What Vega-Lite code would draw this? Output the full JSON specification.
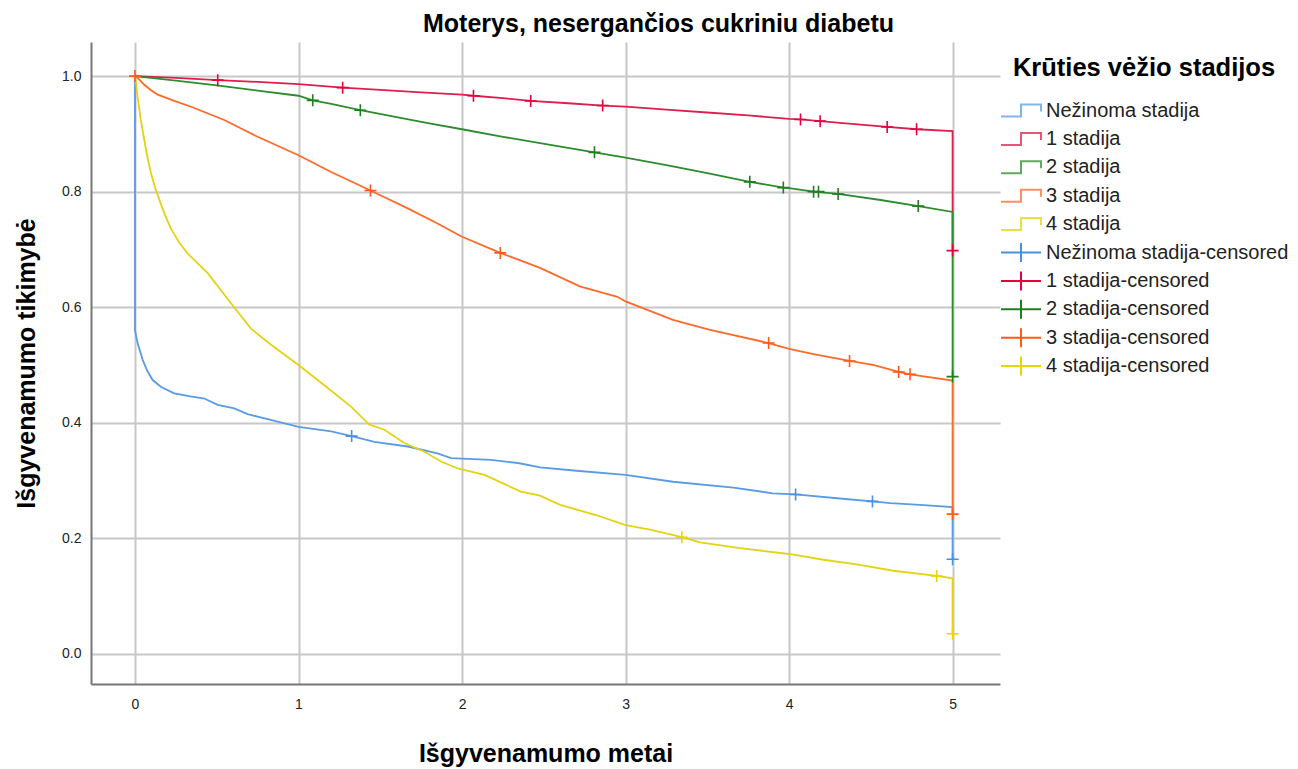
{
  "$schema": "https://vega.github.io/schema/vega-lite/v6.json",
  "width": 909,
  "height": 642,
  "autosize": {"type": "none"},
  "padding": {"left": 91, "top": 42, "right": 298, "bottom": 85},
  "background": "white",
  "config": {
    "view": {"stroke": null},
    "font": "Liberation Sans"
  },
  "title": {
    "text": "Moterys, nesergančios cukriniu diabetu",
    "font": "Liberation Sans",
    "fontSize": 25,
    "fontWeight": "bold",
    "color": "#000000",
    "anchor": "middle",
    "frame": "group",
    "dx": 113,
    "offset": 5
  },
  "datasets": {
    "curves": [
      {"g": "Nežinoma stadija", "t": 0, "p": 1.0},
      {"g": "Nežinoma stadija", "t": 0, "p": 0.56},
      {"g": "Nežinoma stadija", "t": 0.016, "p": 0.538},
      {"g": "Nežinoma stadija", "t": 0.047, "p": 0.509},
      {"g": "Nežinoma stadija", "t": 0.075, "p": 0.49},
      {"g": "Nežinoma stadija", "t": 0.108, "p": 0.474},
      {"g": "Nežinoma stadija", "t": 0.16, "p": 0.462},
      {"g": "Nežinoma stadija", "t": 0.24, "p": 0.451},
      {"g": "Nežinoma stadija", "t": 0.33, "p": 0.446},
      {"g": "Nežinoma stadija", "t": 0.424, "p": 0.442},
      {"g": "Nežinoma stadija", "t": 0.506, "p": 0.431},
      {"g": "Nežinoma stadija", "t": 0.607, "p": 0.425},
      {"g": "Nežinoma stadija", "t": 0.689, "p": 0.415},
      {"g": "Nežinoma stadija", "t": 0.83, "p": 0.405},
      {"g": "Nežinoma stadija", "t": 1.0, "p": 0.393},
      {"g": "Nežinoma stadija", "t": 1.2, "p": 0.385},
      {"g": "Nežinoma stadija", "t": 1.325, "p": 0.377},
      {"g": "Nežinoma stadija", "t": 1.464, "p": 0.367},
      {"g": "Nežinoma stadija", "t": 1.668, "p": 0.359},
      {"g": "Nežinoma stadija", "t": 1.85, "p": 0.347},
      {"g": "Nežinoma stadija", "t": 1.933, "p": 0.339},
      {"g": "Nežinoma stadija", "t": 2.177, "p": 0.336},
      {"g": "Nežinoma stadija", "t": 2.35, "p": 0.33},
      {"g": "Nežinoma stadija", "t": 2.477, "p": 0.323},
      {"g": "Nežinoma stadija", "t": 2.7, "p": 0.317},
      {"g": "Nežinoma stadija", "t": 3.0, "p": 0.31},
      {"g": "Nežinoma stadija", "t": 3.29, "p": 0.298},
      {"g": "Nežinoma stadija", "t": 3.66, "p": 0.288},
      {"g": "Nežinoma stadija", "t": 3.9, "p": 0.278},
      {"g": "Nežinoma stadija", "t": 4.04, "p": 0.276},
      {"g": "Nežinoma stadija", "t": 4.31, "p": 0.269},
      {"g": "Nežinoma stadija", "t": 4.51, "p": 0.264},
      {"g": "Nežinoma stadija", "t": 4.62, "p": 0.261},
      {"g": "Nežinoma stadija", "t": 4.8, "p": 0.258},
      {"g": "Nežinoma stadija", "t": 5.0, "p": 0.254},
      {"g": "Nežinoma stadija", "t": 5.0, "p": 0.164},

      {"g": "1 stadija", "t": 0, "p": 1.0},
      {"g": "1 stadija", "t": 0.25, "p": 0.997},
      {"g": "1 stadija", "t": 0.506, "p": 0.993},
      {"g": "1 stadija", "t": 0.75, "p": 0.99},
      {"g": "1 stadija", "t": 1.0, "p": 0.986},
      {"g": "1 stadija", "t": 1.27, "p": 0.98},
      {"g": "1 stadija", "t": 1.5, "p": 0.976},
      {"g": "1 stadija", "t": 1.75, "p": 0.972},
      {"g": "1 stadija", "t": 2.0, "p": 0.968},
      {"g": "1 stadija", "t": 2.07, "p": 0.966},
      {"g": "1 stadija", "t": 2.25, "p": 0.962},
      {"g": "1 stadija", "t": 2.42, "p": 0.957},
      {"g": "1 stadija", "t": 2.65, "p": 0.953},
      {"g": "1 stadija", "t": 2.86, "p": 0.949},
      {"g": "1 stadija", "t": 3.0, "p": 0.947},
      {"g": "1 stadija", "t": 3.25, "p": 0.942},
      {"g": "1 stadija", "t": 3.5, "p": 0.937},
      {"g": "1 stadija", "t": 3.75, "p": 0.932},
      {"g": "1 stadija", "t": 4.0, "p": 0.926},
      {"g": "1 stadija", "t": 4.07, "p": 0.925},
      {"g": "1 stadija", "t": 4.19, "p": 0.922},
      {"g": "1 stadija", "t": 4.4, "p": 0.917},
      {"g": "1 stadija", "t": 4.6, "p": 0.912},
      {"g": "1 stadija", "t": 4.78, "p": 0.908},
      {"g": "1 stadija", "t": 5.0, "p": 0.905},
      {"g": "1 stadija", "t": 5.0, "p": 0.698},

      {"g": "2 stadija", "t": 0, "p": 1.0},
      {"g": "2 stadija", "t": 0.25, "p": 0.992},
      {"g": "2 stadija", "t": 0.5, "p": 0.984},
      {"g": "2 stadija", "t": 0.75, "p": 0.975},
      {"g": "2 stadija", "t": 1.0, "p": 0.966},
      {"g": "2 stadija", "t": 1.087, "p": 0.958},
      {"g": "2 stadija", "t": 1.2, "p": 0.952},
      {"g": "2 stadija", "t": 1.378, "p": 0.941},
      {"g": "2 stadija", "t": 1.6, "p": 0.929},
      {"g": "2 stadija", "t": 1.8, "p": 0.918},
      {"g": "2 stadija", "t": 2.0, "p": 0.908},
      {"g": "2 stadija", "t": 2.25, "p": 0.895},
      {"g": "2 stadija", "t": 2.54, "p": 0.881},
      {"g": "2 stadija", "t": 2.81, "p": 0.868},
      {"g": "2 stadija", "t": 3.0, "p": 0.859},
      {"g": "2 stadija", "t": 3.25, "p": 0.846},
      {"g": "2 stadija", "t": 3.5, "p": 0.832},
      {"g": "2 stadija", "t": 3.76, "p": 0.817},
      {"g": "2 stadija", "t": 3.965, "p": 0.807},
      {"g": "2 stadija", "t": 4.0, "p": 0.806},
      {"g": "2 stadija", "t": 4.15, "p": 0.8},
      {"g": "2 stadija", "t": 4.3, "p": 0.796},
      {"g": "2 stadija", "t": 4.55, "p": 0.786},
      {"g": "2 stadija", "t": 4.79, "p": 0.775},
      {"g": "2 stadija", "t": 5.0, "p": 0.765},
      {"g": "2 stadija", "t": 5.0, "p": 0.48},

      {"g": "3 stadija", "t": 0, "p": 1.0},
      {"g": "3 stadija", "t": 0.03, "p": 0.993},
      {"g": "3 stadija", "t": 0.057, "p": 0.985},
      {"g": "3 stadija", "t": 0.1, "p": 0.975},
      {"g": "3 stadija", "t": 0.139, "p": 0.968},
      {"g": "3 stadija", "t": 0.24, "p": 0.957},
      {"g": "3 stadija", "t": 0.343, "p": 0.947},
      {"g": "3 stadija", "t": 0.546, "p": 0.924},
      {"g": "3 stadija", "t": 0.75, "p": 0.895},
      {"g": "3 stadija", "t": 1.0, "p": 0.863},
      {"g": "3 stadija", "t": 1.2, "p": 0.834},
      {"g": "3 stadija", "t": 1.44, "p": 0.802},
      {"g": "3 stadija", "t": 1.668, "p": 0.771},
      {"g": "3 stadija", "t": 1.85, "p": 0.745},
      {"g": "3 stadija", "t": 2.0, "p": 0.722},
      {"g": "3 stadija", "t": 2.234, "p": 0.694},
      {"g": "3 stadija", "t": 2.477, "p": 0.668},
      {"g": "3 stadija", "t": 2.72, "p": 0.636},
      {"g": "3 stadija", "t": 2.95, "p": 0.618},
      {"g": "3 stadija", "t": 3.0, "p": 0.61},
      {"g": "3 stadija", "t": 3.29, "p": 0.578},
      {"g": "3 stadija", "t": 3.517, "p": 0.561},
      {"g": "3 stadija", "t": 3.875, "p": 0.538},
      {"g": "3 stadija", "t": 4.0, "p": 0.528},
      {"g": "3 stadija", "t": 4.15, "p": 0.519},
      {"g": "3 stadija", "t": 4.37, "p": 0.507},
      {"g": "3 stadija", "t": 4.52, "p": 0.5},
      {"g": "3 stadija", "t": 4.67, "p": 0.488},
      {"g": "3 stadija", "t": 4.74, "p": 0.484},
      {"g": "3 stadija", "t": 5.0, "p": 0.473},
      {"g": "3 stadija", "t": 5.0, "p": 0.242},

      {"g": "4 stadija", "t": 0, "p": 1.0},
      {"g": "4 stadija", "t": 0.008, "p": 0.985},
      {"g": "4 stadija", "t": 0.016, "p": 0.964},
      {"g": "4 stadija", "t": 0.035, "p": 0.925},
      {"g": "4 stadija", "t": 0.057, "p": 0.889},
      {"g": "4 stadija", "t": 0.078, "p": 0.857},
      {"g": "4 stadija", "t": 0.098, "p": 0.832},
      {"g": "4 stadija", "t": 0.125, "p": 0.805},
      {"g": "4 stadija", "t": 0.159, "p": 0.778},
      {"g": "4 stadija", "t": 0.19, "p": 0.755},
      {"g": "4 stadija", "t": 0.22, "p": 0.736},
      {"g": "4 stadija", "t": 0.27, "p": 0.712},
      {"g": "4 stadija", "t": 0.322, "p": 0.693},
      {"g": "4 stadija", "t": 0.445, "p": 0.659},
      {"g": "4 stadija", "t": 0.587, "p": 0.607},
      {"g": "4 stadija", "t": 0.709, "p": 0.563},
      {"g": "4 stadija", "t": 0.832, "p": 0.535},
      {"g": "4 stadija", "t": 1.0, "p": 0.5},
      {"g": "4 stadija", "t": 1.158, "p": 0.465},
      {"g": "4 stadija", "t": 1.321, "p": 0.428},
      {"g": "4 stadija", "t": 1.433, "p": 0.397},
      {"g": "4 stadija", "t": 1.525, "p": 0.388},
      {"g": "4 stadija", "t": 1.647, "p": 0.365},
      {"g": "4 stadija", "t": 1.77, "p": 0.35},
      {"g": "4 stadija", "t": 1.872, "p": 0.333},
      {"g": "4 stadija", "t": 1.974, "p": 0.321},
      {"g": "4 stadija", "t": 2.137, "p": 0.31},
      {"g": "4 stadija", "t": 2.36, "p": 0.281},
      {"g": "4 stadija", "t": 2.477, "p": 0.274},
      {"g": "4 stadija", "t": 2.6, "p": 0.258},
      {"g": "4 stadija", "t": 2.824, "p": 0.24},
      {"g": "4 stadija", "t": 3.0, "p": 0.223},
      {"g": "4 stadija", "t": 3.15, "p": 0.215},
      {"g": "4 stadija", "t": 3.344, "p": 0.202},
      {"g": "4 stadija", "t": 3.456, "p": 0.193},
      {"g": "4 stadija", "t": 3.7, "p": 0.183},
      {"g": "4 stadija", "t": 4.0, "p": 0.173},
      {"g": "4 stadija", "t": 4.21, "p": 0.163},
      {"g": "4 stadija", "t": 4.414, "p": 0.155},
      {"g": "4 stadija", "t": 4.638, "p": 0.144},
      {"g": "4 stadija", "t": 4.903, "p": 0.135},
      {"g": "4 stadija", "t": 5.0, "p": 0.131},
      {"g": "4 stadija", "t": 5.0, "p": 0.035}
    ],
    "censored": [
      {"g": "Nežinoma stadija-censored", "t": 1.325, "p": 0.377},
      {"g": "Nežinoma stadija-censored", "t": 4.04, "p": 0.276},
      {"g": "Nežinoma stadija-censored", "t": 4.51, "p": 0.264},
      {"g": "Nežinoma stadija-censored", "t": 5.0, "p": 0.164},
      {"g": "1 stadija-censored", "t": 0.506, "p": 0.993},
      {"g": "1 stadija-censored", "t": 1.27, "p": 0.98},
      {"g": "1 stadija-censored", "t": 2.07, "p": 0.966},
      {"g": "1 stadija-censored", "t": 2.42, "p": 0.957},
      {"g": "1 stadija-censored", "t": 2.86, "p": 0.949},
      {"g": "1 stadija-censored", "t": 4.07, "p": 0.925},
      {"g": "1 stadija-censored", "t": 4.19, "p": 0.922},
      {"g": "1 stadija-censored", "t": 4.6, "p": 0.912},
      {"g": "1 stadija-censored", "t": 4.78, "p": 0.908},
      {"g": "1 stadija-censored", "t": 5.0, "p": 0.698},
      {"g": "2 stadija-censored", "t": 1.087, "p": 0.958},
      {"g": "2 stadija-censored", "t": 1.378, "p": 0.941},
      {"g": "2 stadija-censored", "t": 2.81, "p": 0.868},
      {"g": "2 stadija-censored", "t": 3.76, "p": 0.817},
      {"g": "2 stadija-censored", "t": 3.965, "p": 0.807},
      {"g": "2 stadija-censored", "t": 4.15, "p": 0.8},
      {"g": "2 stadija-censored", "t": 4.18, "p": 0.8},
      {"g": "2 stadija-censored", "t": 4.3, "p": 0.796},
      {"g": "2 stadija-censored", "t": 4.79, "p": 0.775},
      {"g": "2 stadija-censored", "t": 5.0, "p": 0.48},
      {"g": "3 stadija-censored", "t": 0, "p": 1.0},
      {"g": "3 stadija-censored", "t": 1.44, "p": 0.802},
      {"g": "3 stadija-censored", "t": 2.234, "p": 0.694},
      {"g": "3 stadija-censored", "t": 3.875, "p": 0.538},
      {"g": "3 stadija-censored", "t": 4.37, "p": 0.507},
      {"g": "3 stadija-censored", "t": 4.67, "p": 0.488},
      {"g": "3 stadija-censored", "t": 4.74, "p": 0.484},
      {"g": "3 stadija-censored", "t": 5.0, "p": 0.242},
      {"g": "4 stadija-censored", "t": 3.344, "p": 0.202},
      {"g": "4 stadija-censored", "t": 4.903, "p": 0.135},
      {"g": "4 stadija-censored", "t": 5.0, "p": 0.035}
    ]
  },
  "encoding": {
    "x": {
      "field": "t", "type": "quantitative",
      "scale": {"domain": [-0.269, 5.29], "nice": false, "zero": false},
      "axis": {
        "title": "Išgyvenamumo metai",
        "values": [0, 1, 2, 3, 4, 5],
        "format": "d",
        "grid": true, "gridColor": "#c8c8c8", "gridWidth": 2,
        "ticks": false,
        "domainColor": "#777777", "domainWidth": 2,
        "labelFont": "Liberation Sans", "labelFontSize": 14, "labelColor": "#222222", "labelPadding": 13,
        "titleFont": "Liberation Sans", "titleFontSize": 25, "titleFontWeight": "bold", "titleColor": "#000000",
        "titlePadding": 30
      }
    },
    "y": {
      "field": "p", "type": "quantitative",
      "scale": {"domain": [-0.052, 1.059], "nice": false, "zero": false},
      "axis": {
        "title": "Išgyvenamumo tikimybė",
        "values": [0, 0.2, 0.4, 0.6, 0.8, 1.0],
        "format": ".1f",
        "grid": true, "gridColor": "#c8c8c8", "gridWidth": 2,
        "ticks": false,
        "domainColor": "#777777", "domainWidth": 2,
        "labelFont": "Liberation Sans", "labelFontSize": 14, "labelColor": "#222222", "labelPadding": 10,
        "titleFont": "Liberation Sans", "titleFontSize": 25, "titleFontWeight": "bold", "titleColor": "#000000",
        "titlePadding": 22
      }
    },
    "color": {
      "field": "g", "type": "nominal",
      "scale": {
        "domain": ["Nežinoma stadija", "1 stadija", "2 stadija", "3 stadija", "4 stadija",
                   "Nežinoma stadija-censored", "1 stadija-censored", "2 stadija-censored", "3 stadija-censored", "4 stadija-censored"],
        "range": ["#5A9BE6", "#DC1F4E", "#2E8B2E", "#FF6A2A", "#E3D312",
                  "#4A90E2", "#E8003D", "#1F7F1F", "#FF5A1A", "#E6D600"]
      },
      "legend": {
        "title": "Krūties vėžio stadijos",
        "orient": "none",
        "legendX": 909,
        "legendY": 14,
        "padding": 0,
        "titleFont": "Liberation Sans", "titleFontSize": 25.5, "titleFontWeight": "bold", "titleColor": "#000000",
        "titleAnchor": "middle",
        "titleLimit": 500,
        "titlePadding": 18,
        "labelFont": "Liberation Sans", "labelFontSize": 20, "labelColor": "#222222",
        "labelOffset": 24,
        "labelLimit": 400,
        "symbolSize": 400,
        "symbolStrokeWidth": 2,
        "symbolType": "M-1,0.6H1V-0.6H3V0.1",
        "symbolFillColor": "transparent",
        "rowPadding": 0.4,
        "encode": {
          "symbols": {
            "update": {
              "shape": [
                {"test": "indexof(datum.value, 'censored') >= 0", "value": "M-1,0H3M1,-0.95V0.95"},
                {"value": "M-1,0.6H1V-0.6H3V0.1M1,-0.95L1,-0.95M1,0.95L1,0.95"}
              ],
              "opacity": [
                {"test": "indexof(datum.value, 'censored') >= 0", "value": 1},
                {"value": 0.75}
              ],
              "fill": {"value": "transparent"},
              "stroke": {"scale": "color", "field": "value"},
              "strokeWidth": {"value": 2}
            }
          }
        }
      }
    }
  },
  "layer": [
    {
      "data": {"name": "curves"},
      "mark": {"type": "line", "strokeWidth": 1.8, "interpolate": "linear"}
    },
    {
      "data": {"name": "censored"},
      "mark": {"type": "point", "shape": "M-1,0H1M0,-1V1", "filled": false, "size": 144, "strokeWidth": 1.6, "opacity": 1}
    }
  ]
}
